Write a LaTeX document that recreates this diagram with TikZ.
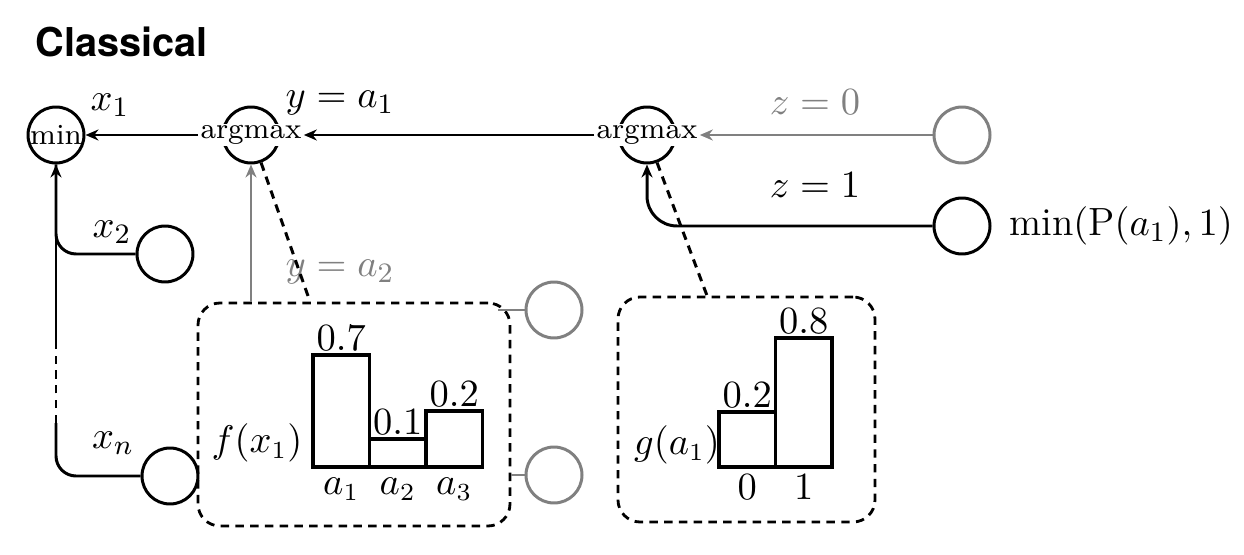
\documentclass[tikz,border=0pt]{standalone}
\usepackage{amsmath}
\usepackage{fontspec}
\newfontfamily\heros{TeX Gyre Heros}
\usetikzlibrary{
    arrows.meta,
    positioning,
    calc
}

\begin{document}
\begin{tikzpicture}[
    >={Stealth[length=1.3mm, width=1.1mm]},
    every node/.style={font=\fontsize{11.2}{13}\selectfont},
    unit/.style={draw, circle, line width=0.85pt, minimum size=0.56cm, inner sep=0pt},
    greyunit/.style={unit, draw=gray},
    optag/.style={fill=white, inner sep=0.5pt, font=\fontsize{8.3}{10}\selectfont},
    frame/.style={draw, line width=0.8pt, dash pattern=on 2.4pt off 1.8pt, rounded corners=0.22cm},
    bar/.style={draw, line width=0.9pt, anchor=south west, minimum width=0.565cm, inner sep=0pt, outer sep=0pt},
    histlbl/.style={font=\fontsize{10.5}{12}\selectfont, inner sep=1pt},
    wire/.style={line width=0.85pt},
    greywire/.style={wire, gray},
    dashwire/.style={wire, dash pattern=on 2.4pt off 1.8pt}
]
\useasboundingbox (0,0) rectangle (12.44,5.54);

% Title
\node[anchor=base west, inner sep=0pt, font=\fontsize{11.3}{13}\selectfont\heros\bfseries] (title) at (0.35,4.97) {Classical};

% Dashed boxes
\node[frame, minimum width=3.12cm, minimum height=2.23cm] (fbox) at (3.54,1.395) {};
\node[frame, minimum width=2.57cm, minimum height=2.25cm] (gbox) at (7.465,1.445) {};

% Top row
\node[unit, font=\fontsize{8.3}{10}\selectfont] (mn) at (0.56,4.19) {min};
\node[unit] (am1) at (2.51,4.19) {};
\node[optag] (am1t) at (am1) {argmax};
\node[unit] (am2) at (6.47,4.19) {};
\node[optag] (am2t) at (am2) {argmax};
\node[greyunit] (zc0) at (9.62,4.19) {};
\node[unit] (zc1) at (9.62,3.28) {};
\node[right=0.17cm of zc1, inner sep=0pt] (prob) {$\min(\mathrm{P}(a_1),1)$};

% Inputs of min
\node[unit] (x2) at (1.65,3.00) {};
\node[unit] (xn) at (1.70,0.78) {};
\coordinate (dhi) at (0.56,2.09);
\coordinate (dlo) at (0.56,1.31);

% Grey outputs
\node[greyunit] (gc1) at (5.54,2.44) {};
\node[greyunit] (gc2) at (5.54,0.79) {};
\coordinate (fcorner) at (4.98,2.44);

% Labels
\node at (1.10,4.49) {$x_1$};
\node at (1.12,3.22) {$x_2$};
\node at (1.13,1.11) {$x_n$};
\node at (3.40,4.51) {$y=a_1$};
\node[text=gray] at (3.40,2.82) {$y=a_2$};
\node[text=gray] at (8.15,4.52) {$z=0$};
\node at (8.15,3.69) {$z=1$};

% Connectors
\draw[wire, ->] (am1t.west) -- (mn.east);
\draw[wire, ->] (am2t.west) -- (am1t.east);
\draw[greywire, ->] (zc0.west) -- (am2t.east);
\draw[wire, ->, rounded corners=0.3cm] (zc1.west) -| (am2.south);
\draw[wire, rounded corners=0.2cm] (x2.west) -| (mn.south);
\draw[wire, rounded corners=0.2cm] (xn.west) -| (dlo);
\draw[dashwire] (dlo) -- (dhi);
\draw[wire, ->] (dhi) -- (mn.south);
\draw[greywire, ->] (am1.south |- fbox.north) -- (am1.south);
\draw[dashwire] (am1.-70) -- ($(fbox.north)+(-0.44,0)$);
\draw[dashwire] (am2.-70) -- ($(gbox.north)+(-0.395,0)$);
\draw[greywire] (gc1.west) -- (fcorner);
\draw[greywire] (gc2.west) -- (fbox.east |- gc2.west);

% Histogram f
\node[bar, minimum height=1.12cm] (fa1) at (3.13,0.87) {};
\node[bar, minimum height=0.28cm] (fa2) at (fa1.south east) {};
\node[bar, minimum height=0.56cm] (fa3) at (fa2.south east) {};
\node[histlbl, above] at (fa1.north) {$0.7$};
\node[histlbl, above] at (fa2.north) {$0.1$};
\node[histlbl, above] at (fa3.north) {$0.2$};
\node[histlbl, below, inner sep=3pt] at (fa1.south) {$a_1$};
\node[histlbl, below, inner sep=3pt] at (fa2.south) {$a_2$};
\node[histlbl, below, inner sep=3pt] at (fa3.south) {$a_3$};
\node[histlbl] at (2.57,1.11) {$f(x_1)$};

% Histogram g
\node[bar, minimum height=0.55cm] (g0) at (7.19,0.87) {};
\node[bar, minimum height=1.29cm] (g1) at (g0.south east) {};
\node[histlbl, above] at (g0.north) {$0.2$};
\node[histlbl, above] at (g1.north) {$0.8$};
\node[histlbl, below, inner sep=2pt] at (g0.south) {$0$};
\node[histlbl, below, inner sep=2pt] at (g1.south) {$1$};
\node[histlbl] at (6.77,1.09) {$g(a_1)$};

\end{tikzpicture}
\end{document}
